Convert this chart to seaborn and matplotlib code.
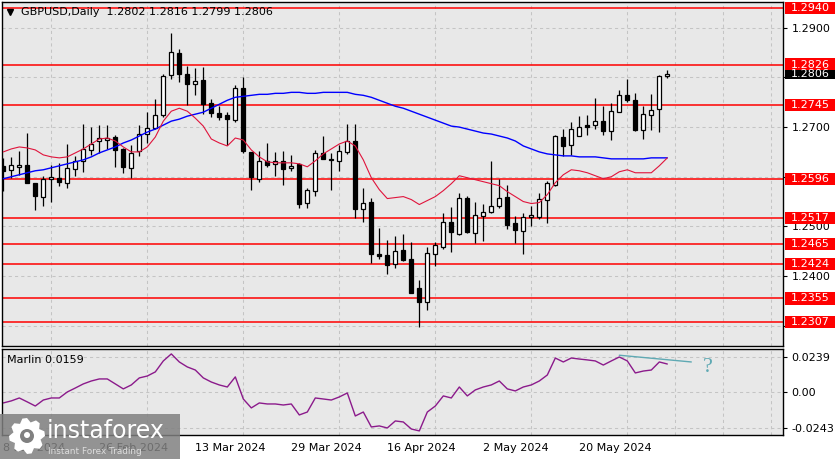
import numpy as np
import pandas as pd
import matplotlib
matplotlib.use("Agg")
import matplotlib.pyplot as plt
from matplotlib.patches import Rectangle, Circle, Polygon
from matplotlib.transforms import IdentityTransform
import seaborn as sns

# daily candles, bar 0 = 8 Feb 2024
opens = [1.2621, 1.2613, 1.2619, 1.2624, 1.2587, 1.2559, 1.2596, 1.2597, 1.2587, 1.2615,
         1.2632, 1.2653, 1.2671, 1.2674, 1.2680, 1.2656, 1.2617, 1.2651, 1.2687, 1.2699,
         1.2725, 1.2804, 1.2849, 1.2806, 1.2787, 1.2794, 1.2749, 1.2729, 1.2724, 1.2715,
         1.2779, 1.2649, 1.2596, 1.2632, 1.2626, 1.2632, 1.2617, 1.2626, 1.2547, 1.2572,
         1.2647, 1.2636, 1.2631, 1.2649, 1.2672, 1.2535, 1.2549, 1.2444, 1.2442, 1.2424,
         1.2452, 1.2434, 1.2376, 1.2347, 1.2445, 1.2459, 1.2509, 1.2485, 1.2557, 1.2487,
         1.2521, 1.2529, 1.2541, 1.2559, 1.2506, 1.2491, 1.2519, 1.2519, 1.2553, 1.2584,
         1.2681, 1.2664, 1.2683, 1.2704, 1.2705, 1.2712, 1.2692, 1.2731, 1.2764, 1.2754,
         1.2694, 1.2725, 1.2736, 1.2802]
highs = [1.2638, 1.2640, 1.2652, 1.2689, 1.2588, 1.2601, 1.2623, 1.2627, 1.2666, 1.2641,
         1.2707, 1.2701, 1.2705, 1.2705, 1.2684, 1.2657, 1.2663, 1.2704, 1.2731, 1.2757,
         1.2807, 1.2889, 1.2857, 1.2824, 1.2820, 1.2821, 1.2756, 1.2742, 1.2731, 1.2784,
         1.2801, 1.2650, 1.2651, 1.2667, 1.2649, 1.2652, 1.2644, 1.2627, 1.2577, 1.2654,
         1.2683, 1.2647, 1.2663, 1.2707, 1.2707, 1.2577, 1.2557, 1.2497, 1.2472, 1.2481,
         1.2484, 1.2469, 1.2391, 1.2459, 1.2469, 1.2526, 1.2539, 1.2567, 1.2561, 1.2549,
         1.2546, 1.2632, 1.2595, 1.2584, 1.2521, 1.2526, 1.2541, 1.2567, 1.2591, 1.2684,
         1.2697, 1.2711, 1.2722, 1.2724, 1.2759, 1.2743, 1.2749, 1.2774, 1.2797, 1.2769,
         1.2742, 1.2766, 1.2804, 1.2816]
lows = [1.2571, 1.2597, 1.2604, 1.2587, 1.2533, 1.2541, 1.2549, 1.2581, 1.2577, 1.2601,
        1.2609, 1.2644, 1.2647, 1.2656, 1.2619, 1.2607, 1.2597, 1.2641, 1.2667, 1.2697,
        1.2721, 1.2797, 1.2791, 1.2744, 1.2765, 1.2727, 1.2721, 1.2714, 1.2663, 1.2711,
        1.2647, 1.2573, 1.2589, 1.2619, 1.2602, 1.2584, 1.2611, 1.2537, 1.2536, 1.2561,
        1.2636, 1.2573, 1.2611, 1.2646, 1.2517, 1.2509, 1.2426, 1.2434, 1.2405, 1.2417,
        1.2431, 1.2366, 1.2298, 1.2331, 1.2421, 1.2454, 1.2449, 1.2482, 1.2486, 1.2467,
        1.2471, 1.2527, 1.2536, 1.2494, 1.2467, 1.2444, 1.2501, 1.2514, 1.2506, 1.2581,
        1.2641, 1.2644, 1.2682, 1.2684, 1.2697, 1.2684, 1.2673, 1.2731, 1.2751, 1.2693,
        1.2677, 1.2695, 1.2691, 1.2799]
closes = [1.2611, 1.2624, 1.2624, 1.2587, 1.2561, 1.2596, 1.2597, 1.2589, 1.2617, 1.2632,
          1.2655, 1.2666, 1.2679, 1.2679, 1.2654, 1.2619, 1.2647, 1.2687, 1.2699, 1.2725,
          1.2802, 1.2851, 1.2807, 1.2786, 1.2793, 1.2746, 1.2729, 1.2721, 1.2716, 1.2779,
          1.2651, 1.2599, 1.2632, 1.2623, 1.2632, 1.2615, 1.2621, 1.2546, 1.2573, 1.2647,
          1.2636, 1.2633, 1.2651, 1.2671, 1.2535, 1.2547, 1.2444, 1.2441, 1.2423, 1.2451,
          1.2433, 1.2366, 1.2347, 1.2446, 1.2462, 1.2509, 1.2489, 1.2557, 1.2489, 1.2523,
          1.2529, 1.2542, 1.2557, 1.2503, 1.2493, 1.2519, 1.2522, 1.2555, 1.2587, 1.2682,
          1.2662, 1.2696, 1.2701, 1.2701, 1.2712, 1.2693, 1.2732, 1.2764, 1.2754, 1.2694,
          1.2726, 1.2735, 1.2802, 1.2806]

# moving averages
ma_fast = [1.2650, 1.2656, 1.2660, 1.2658, 1.2654, 1.2644, 1.2640, 1.2638, 1.2640, 1.2648,
           1.2656, 1.2666, 1.2676, 1.2678, 1.2672, 1.2660, 1.2650, 1.2650, 1.2660, 1.2680,
           1.2712, 1.2732, 1.2738, 1.2732, 1.2718, 1.2702, 1.2676, 1.2668, 1.2662, 1.2678,
           1.2674, 1.2654, 1.2640, 1.2630, 1.2628, 1.2628, 1.2628, 1.2626, 1.2620, 1.2632,
           1.2646, 1.2656, 1.2666, 1.2672, 1.2662, 1.2634, 1.2598, 1.2574, 1.2556, 1.2558,
           1.2560, 1.2554, 1.2544, 1.2552, 1.2560, 1.2572, 1.2586, 1.2602, 1.2598, 1.2594,
           1.2590, 1.2586, 1.2582, 1.2570, 1.2560, 1.2550, 1.2546, 1.2548, 1.2564, 1.2588,
           1.2604, 1.2614, 1.2612, 1.2608, 1.2602, 1.2596, 1.2600, 1.2610, 1.2614, 1.2608,
           1.2608, 1.2608, 1.2622, 1.2638]
ma_slow = [1.2596, 1.2600, 1.2604, 1.2608, 1.2612, 1.2614, 1.2618, 1.2622, 1.2626, 1.2630,
           1.2634, 1.2640, 1.2648, 1.2654, 1.2660, 1.2668, 1.2674, 1.2682, 1.2690, 1.2696,
           1.2704, 1.2712, 1.2716, 1.2722, 1.2726, 1.2730, 1.2738, 1.2746, 1.2754, 1.2760,
           1.2762, 1.2764, 1.2766, 1.2766, 1.2768, 1.2768, 1.2770, 1.2770, 1.2768, 1.2768,
           1.2770, 1.2770, 1.2770, 1.2770, 1.2766, 1.2764, 1.2760, 1.2754, 1.2748, 1.2742,
           1.2738, 1.2732, 1.2726, 1.2720, 1.2714, 1.2708, 1.2702, 1.2700, 1.2696, 1.2692,
           1.2688, 1.2686, 1.2682, 1.2678, 1.2672, 1.2662, 1.2656, 1.2650, 1.2646, 1.2644,
           1.2642, 1.2642, 1.2640, 1.2640, 1.2640, 1.2638, 1.2636, 1.2636, 1.2636, 1.2636,
           1.2636, 1.2638, 1.2638, 1.2638]

# Marlin oscillator
marlin = [-0.0073, -0.0059, -0.0039, -0.0066, -0.0094, -0.0053, -0.0039, -0.0039, 0.0002, 0.0029,
          0.0057, 0.0077, 0.0091, 0.0091, 0.0057, 0.0023, 0.0050, 0.0098, 0.0111, 0.0139,
          0.0214, 0.0262, 0.0207, 0.0173, 0.0152, 0.0098, 0.0070, 0.0050, 0.0036, 0.0105,
          -0.0046, -0.0107, -0.0073, -0.0080, -0.0080, -0.0087, -0.0080, -0.0155, -0.0135, -0.0039,
          -0.0046, -0.0053, -0.0032, -0.0005, -0.0162, -0.0135, -0.0237, -0.0230, -0.0244, -0.0196,
          -0.0203, -0.0251, -0.0264, -0.0135, -0.0094, -0.0025, -0.0039, 0.0036, -0.0025, 0.0016,
          0.0036, 0.0050, 0.0077, 0.0023, 0.0009, 0.0036, 0.0050, 0.0077, 0.0118, 0.0234,
          0.0207, 0.0234, 0.0227, 0.0221, 0.0214, 0.0186, 0.0214, 0.0241, 0.0214, 0.0132,
          0.0145, 0.0152, 0.0207, 0.0193]

levels = [1.2940, 1.2826, 1.2745, 1.2596, 1.2517, 1.2465, 1.2424, 1.2355, 1.2307]
last_price = 1.2806
price_ticks = [1.2300, 1.2400, 1.2500, 1.2600, 1.2700, 1.2800, 1.2900]
price_labels = ["", "1.2400", "1.2500", "", "1.2700", "", "1.2900"]  # the rest sit under the level boxes
osc_ticks = [-0.0243, 0.0, 0.0239]
osc_labels = ["-0.0243", "0.00", "0.0239"]
date_pos = [0, 12, 24, 36, 48, 60, 72]
date_labels = ["8 Feb 2024", "26 Feb 2024", "13 Mar 2024", "29 Mar 2024",
               "16 Apr 2024", "2 May 2024", "20 May 2024"]
div_x = [77, 86]
div_y = [0.0253, 0.0207]

df = pd.DataFrame({"bar": np.arange(len(opens)), "open": opens, "high": highs,
                   "low": lows, "close": closes, "fast": ma_fast, "slow": ma_slow,
                   "marlin": marlin})

sns.set_style("white", rc={"axes.facecolor": "#e8e8e8", "axes.edgecolor": "black"})
plt.rcParams["font.family"] = ["DejaVu Sans"]

W, H = 840, 459
fig = plt.figure(figsize=(8.4, 4.59), dpi=100)
fig.patch.set_facecolor("white")
ax = fig.add_axes([2 / W, 1 - 346 / H, 781 / W, 344 / H])
ax2 = fig.add_axes([2 / W, 1 - 435 / H, 781 / W, 86.5 / H], sharex=ax)

grid_kw = dict(color="#c4c4c4", linestyle=(0, (3, 3)), linewidth=0.75)
for a in (ax, ax2):
    a.set_axisbelow(True)
    a.set_xticks(range(0, 97, 6), minor=True)
    a.grid(which="minor", axis="x", **grid_kw)
    a.grid(which="major", axis="y", **grid_kw)
    for s in a.spines.values():
        s.set_color("black")
        s.set_linewidth(1.0)

# candles
up = df["close"] >= df["open"]
ax.vlines(df["bar"], df["low"], df["high"], color="black", linewidth=0.9, zorder=3)
body_lo = df[["open", "close"]].min(axis=1)
body_h = (df["close"] - df["open"]).abs().clip(lower=0.00025)
ax.bar(df["bar"], body_h, bottom=body_lo, width=0.52,
       color=np.where(up, "white", "black"), edgecolor="black", linewidth=0.9, zorder=4)

sns.lineplot(data=df, x="bar", y="slow", ax=ax, color="#0000ff", linewidth=1.0, zorder=5)
sns.lineplot(data=df, x="bar", y="fast", ax=ax, color="#e0143c", linewidth=0.8, zorder=5)

for lv in levels:
    ax.axhline(lv, color="#ff0000", linewidth=1.1, zorder=2)

ax.set_xlim(-0.1625, 97.46)
ax.set_ylim(1.2259, 1.2952)
ax.yaxis.tick_right()
ax.set_yticks(price_ticks)
ax.set_yticklabels(price_labels)
ax.tick_params(axis="y", length=3, width=0.8, pad=3, labelsize=8, colors="black")
ax.tick_params(axis="x", which="both", length=0, labelbottom=False)
ax.set_xlabel("")
ax.set_ylabel("")

# price labels on the scale
ytr = ax.get_yaxis_transform()
for lv in levels:
    ax.add_patch(Rectangle((1.0026, lv - 0.00125), 0.064, 0.0025, transform=ytr,
                           facecolor="#ff0000", edgecolor="none", clip_on=False, zorder=10))
    ax.text(1.0095, lv, f"{lv:.4f}", transform=ytr, ha="left", va="center",
            fontsize=8, color="white", zorder=11, clip_on=False)
ax.add_patch(Rectangle((1.0026, last_price - 0.0009), 0.064, 0.0019, transform=ytr,
                       facecolor="black", edgecolor="none", clip_on=False, zorder=10))
ax.text(1.0095, last_price, f"{last_price:.4f}", transform=ytr, ha="left", va="center",
        fontsize=8, color="white", zorder=11, clip_on=False)

ax.plot([0.0105], [0.971], marker="v", color="black", markersize=5, transform=ax.transAxes)
ax.text(0.0243, 0.971, "GBPUSD,Daily  1.2802 1.2816 1.2799 1.2806", transform=ax.transAxes,
        ha="left", va="center", fontsize=8, color="black")

# oscillator panel
sns.lineplot(data=df, x="bar", y="marlin", ax=ax2, color="#8b1a8b", linewidth=1.0)
ax2.plot(div_x, div_y, color="#5fa9b3", linewidth=1.0)
ax2.text(88, 0.0166, "?", color="#5fa9b3", fontsize=16, ha="center", va="center",
         family=["Liberation Serif", "DejaVu Serif"])
ax2.set_ylim(-0.0292, 0.0299)
ax2.yaxis.tick_right()
ax2.set_yticks(osc_ticks)
ax2.set_yticklabels(osc_labels)
ax2.tick_params(axis="y", length=3, width=0.8, pad=3, labelsize=8, colors="black")
ax2.set_xticks(date_pos)
ax2.set_xticklabels(date_labels, ha="left")
ax2.tick_params(axis="x", which="major", length=3, width=0.8, pad=3, labelsize=8,
                colors="black")
ax2.tick_params(axis="x", which="minor", length=0)
ax2.set_xlabel("")
ax2.set_ylabel("")
ax2.text(0.0064, 0.867, "Marlin 0.0159", transform=ax2.transAxes, ha="left",
         va="center", fontsize=8, color="black")

# watermark
px = IdentityTransform()
fig.patches.append(Rectangle((0, 0), 180, 45, transform=px, facecolor="#808080",
                             edgecolor="none", alpha=0.85, zorder=20))
cx, cy = 27, 23
ang = np.linspace(0, 2 * np.pi, 24, endpoint=False)
rad = np.where(np.arange(24) % 3 == 2, 14, 18)
gear = np.column_stack([cx + rad * np.cos(ang), cy + rad * np.sin(ang)])
fig.patches.append(Polygon(gear, closed=True, transform=px, facecolor="white",
                           edgecolor="none", zorder=21))
fig.patches.append(Circle((cx, cy), 7, transform=px, facecolor="#808080",
                          edgecolor="none", zorder=22))
fig.patches.append(Circle((cx, cy + 1), 3, transform=px, facecolor="white",
                          edgecolor="none", zorder=23))
fig.text(47 / W, 1 - 431 / H, "instaforex", fontsize=17, color="white",
         ha="left", va="center", zorder=24)
fig.text(48 / W, 1 - 451 / H, "Instant Forex Trading", fontsize=6.4, color="#dddddd",
         ha="left", va="center", zorder=24)

fig.savefig("out.png", dpi=100, facecolor="white")
